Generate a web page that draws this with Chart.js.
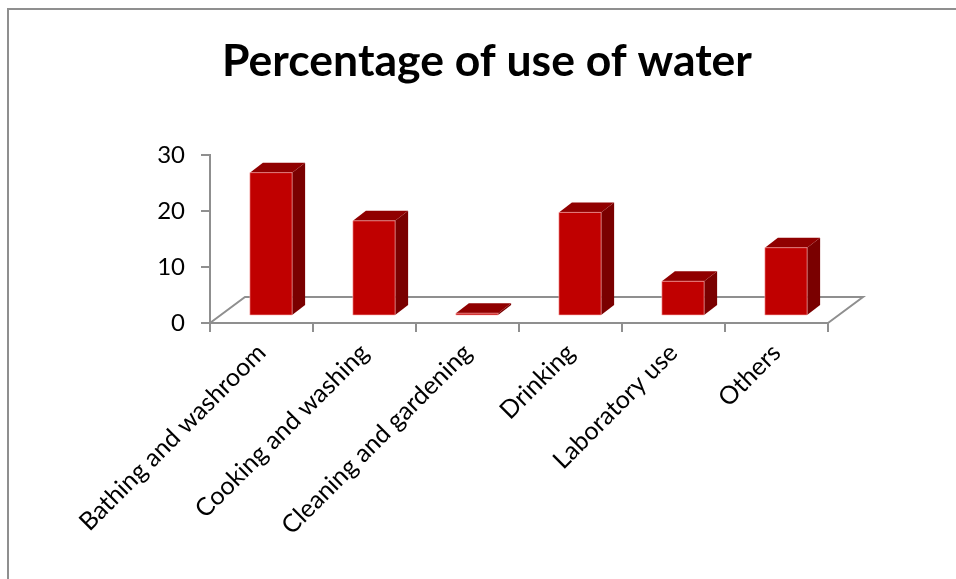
<!DOCTYPE html>
<html lang="en">

<head>
    <meta charset="UTF-8" />
    <title>Percentage of use of water</title>
    <style>
        body {
            margin: 0;
            background: #fff;
        }

        #wrap {
            width: 956px;
            height: 579px;
        }
    </style>
    <script src="https://cdn.jsdelivr.net/npm/chart.js"></script>
</head>

<body>
    <div id="wrap"><canvas id="grafico" width="956" height="579"></canvas></div>

    <script>
        const categorias = ['Bathing and washroom', 'Cooking and washing', 'Cleaning and gardening', 'Drinking', 'Laboratory use', 'Others'];
        const valores = [25.6, 17, 0.5, 18.5, 6.2, 12.2];
        const ticksY = [0, 10, 20, 30];

        const cinza = '#8f8f8f';

        // fake 3d: floor depth and bar depth (pixels)
        const chao = { dx: 35, dy: -26 };
        const frente = { dx: 9.5, dy: -7 };
        const fundo = { dx: 13, dy: -10 };

        const efeito3d = {
            id: 'efeito3d',
            beforeDraw(chart) {
                const ctx = chart.ctx;
                ctx.save();
                ctx.strokeStyle = cinza;
                ctx.lineWidth = 2;
                ctx.beginPath();
                ctx.moveTo(8, chart.height);
                ctx.lineTo(8, 9);
                ctx.lineTo(chart.width, 9);
                ctx.stroke();
                ctx.restore();
            },
            beforeDatasetsDraw(chart) {
                const { left, right, bottom } = chart.chartArea;
                const ctx = chart.ctx;
                ctx.save();
                ctx.strokeStyle = cinza;
                ctx.lineWidth = 2;
                ctx.beginPath();
                ctx.moveTo(left, bottom);
                ctx.lineTo(left + chao.dx, bottom + chao.dy);
                ctx.lineTo(right + chao.dx, bottom + chao.dy);
                ctx.lineTo(right, bottom);
                ctx.stroke();
                ctx.restore();
            },
            afterDatasetsDraw(chart) {
                const ctx = chart.ctx;
                chart.getDatasetMeta(0).data.forEach(barra => {
                    const { x, y, base, width } = barra.getProps(['x', 'y', 'base', 'width']);
                    const x0 = x - width / 2 + frente.dx;
                    const x1 = x + width / 2 + frente.dx;
                    const y0 = y + frente.dy;
                    const y1 = base + frente.dy;
                    ctx.save();
                    ctx.lineJoin = 'round';
                    // lado
                    ctx.fillStyle = '#7a0000';
                    ctx.beginPath();
                    ctx.moveTo(x1, y0);
                    ctx.lineTo(x1 + fundo.dx, y0 + fundo.dy);
                    ctx.lineTo(x1 + fundo.dx, y1 + fundo.dy);
                    ctx.lineTo(x1, y1);
                    ctx.closePath();
                    ctx.fill();
                    // topo
                    ctx.fillStyle = '#900000';
                    ctx.beginPath();
                    ctx.moveTo(x0, y0);
                    ctx.lineTo(x0 + fundo.dx, y0 + fundo.dy);
                    ctx.lineTo(x1 + fundo.dx, y0 + fundo.dy);
                    ctx.lineTo(x1, y0);
                    ctx.closePath();
                    ctx.fill();
                    // frente
                    ctx.fillStyle = '#c00000';
                    ctx.fillRect(x0, y0, x1 - x0, y1 - y0);
                    ctx.strokeStyle = 'rgba(255,180,180,0.6)';
                    ctx.lineWidth = 1;
                    ctx.strokeRect(x0, y0, x1 - x0, y1 - y0);
                    ctx.restore();
                });
            }
        };

        new Chart(document.getElementById('grafico'), {
            type: 'bar',
            data: {
                labels: categorias,
                datasets: [{
                    data: valores,
                    backgroundColor: 'rgba(0,0,0,0)',
                    categoryPercentage: 1,
                    barPercentage: 0.41
                }]
            },
            options: {
                responsive: false,
                animation: false,
                layout: { padding: { left: 18, right: 0, top: 0, bottom: 0 } },
                plugins: {
                    legend: { display: false },
                    tooltip: { enabled: false },
                    title: {
                        display: true,
                        text: 'Percentage of use of water',
                        color: '#000',
                        font: { family: 'Lato', size: 44.5, weight: 'bold', lineHeight: 1.2 },
                        padding: { top: 35, bottom: 66.6 }
                    }
                },
                scales: {
                    x: {
                        offset: true,
                        grid: { drawOnChartArea: false, tickLength: 9, color: cinza, lineWidth: 2, offset: true },
                        border: { color: cinza, width: 2 },
                        ticks: {
                            color: '#000',
                            font: { family: 'Lato', size: 25 },
                            maxRotation: 45,
                            minRotation: 45,
                            autoSkip: false,
                            padding: 6
                        },
                        afterFit: s => { s.height = 256; }
                    },
                    y: {
                        min: 0,
                        max: 30,
                        afterBuildTicks: s => { s.ticks = ticksY.map(v => ({ value: v })); },
                        grid: { drawOnChartArea: false, tickLength: 9, color: cinza, lineWidth: 2 },
                        border: { color: cinza, width: 2 },
                        ticks: {
                            color: '#000',
                            font: { family: 'Lato', size: 24 },
                            padding: 16
                        },
                        afterFit: s => { s.width = 192; }
                    },
                    yDir: {
                        position: 'right',
                        display: true,
                        grid: { display: false },
                        border: { display: false },
                        ticks: { display: false },
                        afterFit: s => { s.width = 128; }
                    }
                }
            },
            plugins: [efeito3d]
        });
    </script>
</body>

</html>
